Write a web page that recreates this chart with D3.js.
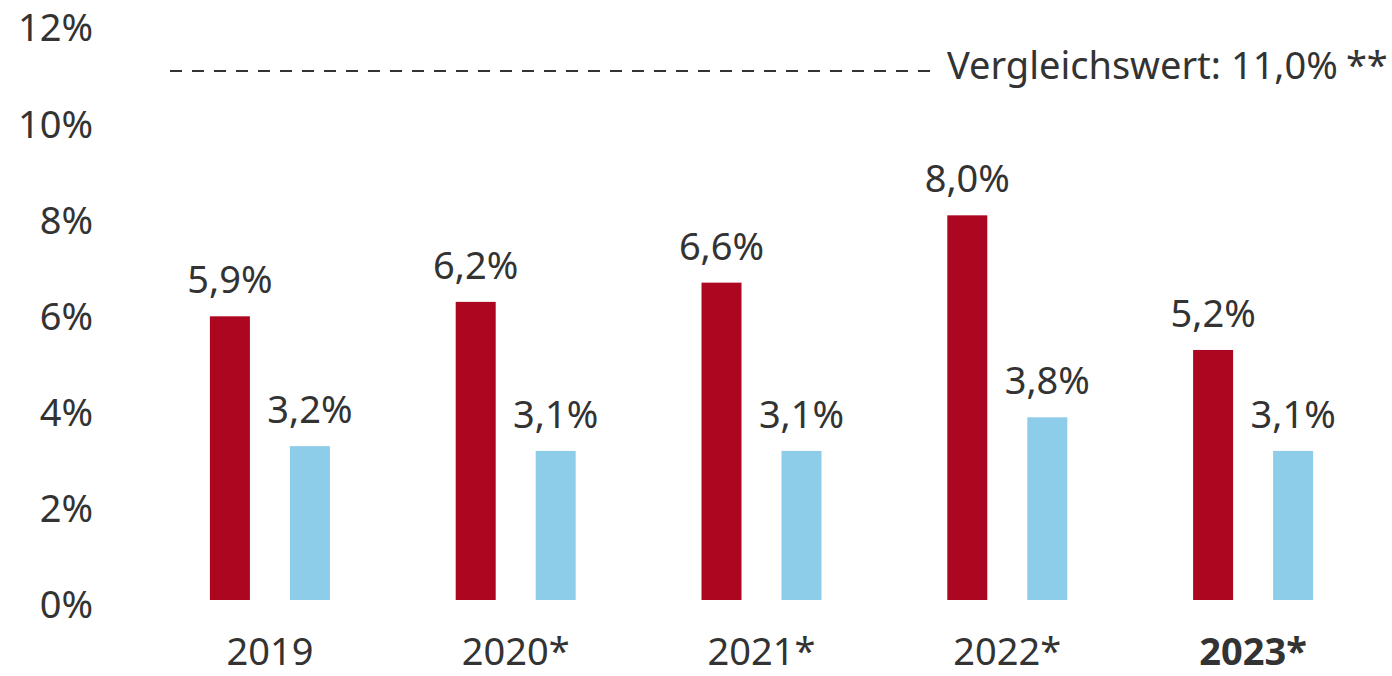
<!DOCTYPE html>
<html>
<head>
<meta charset="utf-8">
<script src="https://cdn.jsdelivr.net/npm/d3@7"></script>
<style>
  body { margin: 0; background: #fff; }
  text { font-family: "Noto Sans", sans-serif; fill: #333; }
</style>
</head>
<body>
<svg id="svg" width="1392" height="676"></svg>
<script>
// data
var years = ["2019", "2020*", "2021*", "2022*", "2023*"];
var series = ["red", "blue"];
var redValues = [5.9, 6.2, 6.6, 8.0, 5.2];
var blueValues = [3.2, 3.1, 3.1, 3.8, 3.1];
var yTicks = [0, 2, 4, 6, 8, 10, 12];
var refValue = 11.0;
var refLabel = "Vergleichswert: 11,0%";

var colors = { red: "#ad0620", blue: "#8ecde9" };

var svg = d3.select("#svg");

var x = d3.scaleBand().domain(years).range([147, 1376]).paddingInner(0);
var bw = x.bandwidth();
var xSub = d3.scaleBand().domain(series).range([bw / 2 - 60, bw / 2 + 60]).paddingInner(0.5);
var y = d3.scaleLinear().domain([0, 12]).range([600, 23]);

function fmt(v) { return d3.format(".1f")(v).replace(".", ",") + "%"; }

// y axis, labels only
var yAxis = svg.append("g")
  .attr("transform", "translate(93,0)")
  .call(d3.axisLeft(y).tickValues(yTicks).tickSize(0).tickPadding(0).tickFormat(function(d) { return d + "%"; }));
yAxis.select(".domain").remove();
yAxis.selectAll("text")
  .attr("dy", "0.47em")
  .style("font-size", "38px")
  .style("font-family", "'Noto Sans', sans-serif")
  .attr("fill", "#333");

// reference line
svg.append("line")
  .attr("x1", 170).attr("x2", 930)
  .attr("y1", y(refValue)).attr("y2", y(refValue))
  .attr("stroke", "#333")
  .attr("stroke-width", 2)
  .attr("stroke-dasharray", "12,10");

var ref = svg.append("text")
  .attr("x", 947)
  .attr("y", y(refValue) + 8)
  .style("font-size", "38px");
ref.append("tspan").text(refLabel);
ref.append("tspan").attr("dx", 8).text("**");

var rows = years.map(function(yr, i) {
  return { year: yr, red: redValues[i], blue: blueValues[i] };
});

var groups = svg.selectAll(".grp")
  .data(rows)
  .enter().append("g")
  .attr("class", "grp")
  .attr("transform", function(d) { return "translate(" + x(d.year) + ",0)"; });

series.forEach(function(s) {
  groups.append("rect")
    .attr("x", xSub(s))
    .attr("width", xSub.bandwidth())
    .attr("y", function(d) { return y(d[s]); })
    .attr("height", function(d) { return y(0) - y(d[s]); })
    .attr("fill", colors[s]);

  groups.append("text")
    .attr("x", xSub(s) + xSub.bandwidth() / 2)
    .attr("y", function(d) { return y(d[s]) - 23; })
    .attr("text-anchor", "middle")
    .style("font-size", "38px")
    .text(function(d) { return fmt(d[s]); });
});

// category labels
groups.append("text")
  .attr("x", bw / 2)
  .attr("y", 665)
  .attr("text-anchor", "middle")
  .style("font-size", "38px")
  .style("font-weight", function(d, i) { return i == years.length - 1 ? "bold" : "normal"; })
  .text(function(d) { return d.year; });
</script>
</body>
</html>
